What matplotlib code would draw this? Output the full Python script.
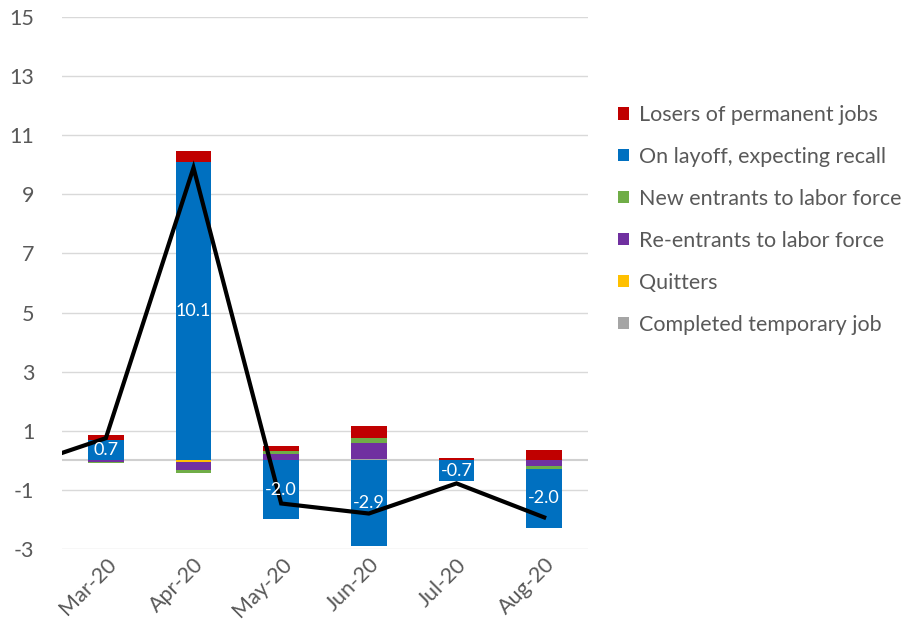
import numpy as np
import matplotlib
matplotlib.use("Agg")
import matplotlib.pyplot as plt

# monthly change by reason for unemployment
months = ["Mar-20", "Apr-20", "May-20", "Jun-20", "Jul-20", "Aug-20"]
completed_temp = [0.0, 0.0, 0.0, 0.05, 0.0, 0.0]
quitters = [0.0, -0.07, 0.0, 0.0, 0.0, 0.0]
reentrants = [-0.05, -0.27, 0.23, 0.55, 0.0, -0.20]
new_entrants = [-0.04, -0.10, 0.08, 0.17, 0.0, -0.08]
on_layoff = [0.7, 10.1, -2.0, -2.9, -0.7, -2.0]
losers_perm = [0.15, 0.35, 0.17, 0.40, 0.08, 0.35]

# total change, starting one month earlier (Feb-20) so the line enters from the left edge
total_months = ["Feb-20"] + months
total_change = [-0.25, 0.75, 9.9, -1.46, -1.8, -0.78, -1.93]

series = [
    ("Completed temporary job", completed_temp, "#A5A5A5"),
    ("Quitters", quitters, "#FFC000"),
    ("Re-entrants to labor force", reentrants, "#7030A0"),
    ("New entrants to labor force", new_entrants, "#70AD47"),
    ("On layoff, expecting recall", on_layoff, "#0070C0"),
    ("Losers of permanent jobs", losers_perm, "#C00000"),
]

plt.rcParams["font.family"] = ["Lato", "DejaVu Sans"]
plt.rcParams["axes.unicode_minus"] = False
text_color = "#595959"

fig = plt.figure(figsize=(9.1, 6.44), dpi=100)
ax = fig.add_axes([62 / 910, 95 / 644, 526 / 910, 532 / 644])

x = np.arange(len(months))
width = 0.41
pos_base = np.zeros(len(months))
neg_base = np.zeros(len(months))
handles = {}
for name, vals, color in series:
    vals = np.array(vals)
    bottoms = np.where(vals >= 0, pos_base, neg_base)
    bars = ax.bar(x, vals, width, bottom=bottoms, color=color, zorder=2, label=name)
    handles[name] = bars
    if name == "On layoff, expecting recall":
        for xi, v, b in zip(x, vals, bottoms):
            ax.text(xi, b + v / 2, f"{v:.1f}", color="white", fontsize=13,
                    ha="center", va="center", zorder=5)
    pos_base = pos_base + np.where(vals >= 0, vals, 0)
    neg_base = neg_base + np.where(vals < 0, vals, 0)

x_total = np.arange(len(total_months)) - 1
ax.plot(x_total, total_change, color="black", lw=3, zorder=4, solid_joinstyle="miter")

ax.set_xlim(-0.5, len(months) - 0.5)
ax.set_ylim(-3, 15)
ax.set_yticks(np.arange(-3, 16, 2))
ax.grid(axis="y", color="#D9D9D9", lw=1, zorder=0)
ax.axhline(0, color="#D0D0D0", lw=1.5, zorder=1)
for s in ax.spines.values():
    s.set_visible(False)
ax.tick_params(axis="both", length=0, colors=text_color, labelsize=15.5)
ax.tick_params(axis="y", pad=20)
ax.tick_params(axis="x", pad=4)
ax.set_xticks(x)
ax.set_xticklabels(months, rotation=45, ha="right", rotation_mode="anchor")

order = [s[0] for s in reversed(series)]
leg = fig.legend([handles[n] for n in order], order, loc="upper left",
                 bbox_to_anchor=(0.658, 0.867), frameon=False, fontsize=15.5,
                 handlelength=0.5, handleheight=0.5, handletextpad=0.45,
                 labelspacing=1.02, labelcolor=text_color)

fig.savefig("out.png", dpi=100)
